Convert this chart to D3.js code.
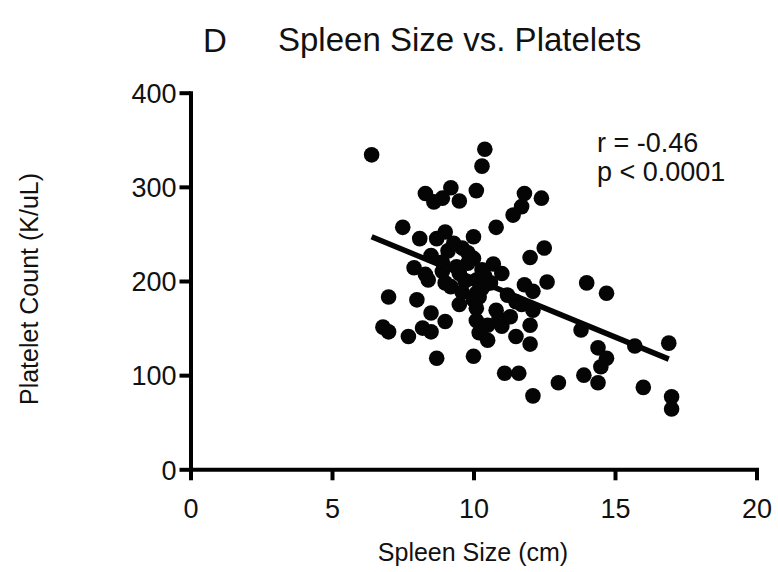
<!DOCTYPE html>
<html>
<head>
<meta charset="utf-8">
<script src="https://cdn.jsdelivr.net/npm/d3@7"></script>
<style>
  body { margin: 0; background: #fff; }
  svg text { font-family: "Liberation Sans", Arial, sans-serif; fill: #111; }
</style>
</head>
<body>
<div class="container"></div>
<script>
// spleen size (cm) and platelet count (K/uL)
var spleenSize = [6.4, 10.4, 10.3, 8.3, 8.6, 8.9, 9.2, 9.5, 10.1, 11.8,
                  12.4, 11.7, 11.4, 7.5, 10.8, 8.1, 8.7, 9.0, 10.0, 12.5,
                  12.0, 9.1, 9.6, 7.9, 8.3, 8.9, 9.5, 10.0, 10.7, 11.0,
                  8.4, 9.2, 9.6, 10.1, 10.1, 10.2, 11.8, 12.1, 12.6, 14.0,
                  14.7, 7.0, 8.0, 10.0, 10.1, 10.1, 10.8, 11.5, 11.7, 12.1,
                  8.5, 9.0, 8.2, 8.5, 6.8, 7.0, 7.7, 10.5, 10.2, 10.5,
                  11.0, 11.5, 12.0, 12.0, 13.8, 14.4, 14.7, 14.5, 15.7, 16.9,
                  8.7, 10.0, 11.1, 11.6, 12.1, 13.0, 13.9, 14.4, 16.0, 17.0,
                  17.0, 8.5, 9.8, 10.4, 9.5, 9.3, 9.8, 10.3, 8.9, 9.4,
                  10.4, 9.7, 10.6, 9.0, 10.3, 11.2, 10.9, 11.3];
var platelets  = [334, 340, 322, 293, 284, 288, 299, 285, 296, 293,
                  288, 279, 270, 257, 257, 245, 245, 252, 247, 235,
                  225, 232, 235, 214, 207, 210, 208, 224, 218, 208,
                  201, 194, 188, 201, 187, 183, 196, 189, 199, 198,
                  187, 183, 180, 180, 171, 158, 169, 178, 175, 169,
                  166, 157, 150, 146, 151, 146, 141, 153, 145, 137,
                  152, 141, 153, 133, 148, 129, 118, 109, 131, 134,
                  118, 120, 102, 102, 78, 92, 100, 92, 87, 77,
                  64, 227, 219, 196, 175, 240, 230, 212, 220, 215,
                  205, 200, 198, 198, 192, 185, 160, 162];

// regression line end points
var fitX = [6.4, 16.9];
var fitY = [247, 117];

var xTicks = [0, 5, 10, 15, 20];
var yTicks = [0, 100, 200, 300, 400];
var stats = ["r = -0.46", "p < 0.0001"];

var width = 778, height = 572;

var x_scale = d3.scaleLinear().domain([0, 20]).range([190.5, 756.5]);
var y_scale = d3.scaleLinear().domain([0, 400]).range([469.3, 92.7]);

var svg = d3.select("div.container").append("svg")
    .attr("width", width)
    .attr("height", height);

// axes
var gx = svg.append("g")
    .attr("transform", "translate(0," + y_scale(0) + ")")
    .call(d3.axisBottom(x_scale).tickValues(xTicks).tickSize(11).tickSizeOuter(0).tickPadding(19));

var gy = svg.append("g")
    .attr("transform", "translate(" + x_scale(0) + ",0)")
    .call(d3.axisLeft(y_scale).tickValues(yTicks).tickSize(11).tickSizeOuter(0).tickPadding(3));

[gx, gy].forEach(function (g) {
  g.select(".domain").attr("stroke", "#000").attr("stroke-width", 4).attr("stroke-linecap", "square");
  g.selectAll(".tick line").attr("stroke", "#000").attr("stroke-width", 4);
  g.selectAll(".tick text").attr("font-size", 27).attr("fill", "#111")
      .attr("font-family", "'Liberation Sans', Arial, sans-serif");
});
gy.selectAll(".tick text").attr("dy", "0.36em");

// points
svg.append("g").selectAll("circle")
    .data(spleenSize.map(function (d, i) { return [d, platelets[i]]; }))
    .enter().append("circle")
    .attr("cx", function (d) { return x_scale(d[0]); })
    .attr("cy", function (d) { return y_scale(d[1]); })
    .attr("r", 7.8)
    .attr("fill", "#050505");

// fit line
var line = d3.line()
    .x(function (d) { return x_scale(d[0]); })
    .y(function (d) { return y_scale(d[1]); });

svg.append("path")
    .datum(fitX.map(function (d, i) { return [d, fitY[i]]; }))
    .attr("fill", "none")
    .attr("stroke", "#050505")
    .attr("stroke-width", 5.5)
    .attr("d", line);

// labels
svg.append("text")
    .attr("x", 203).attr("y", 52)
    .attr("font-size", 33)
    .text("D");

svg.append("text")
    .attr("x", 278).attr("y", 51)
    .attr("font-size", 33)
    .text("Spleen Size vs. Platelets");

svg.append("text")
    .attr("x", 473).attr("y", 561)
    .attr("text-anchor", "middle")
    .attr("font-size", 25)
    .text("Spleen Size (cm)");

svg.append("text")
    .attr("transform", "translate(38,289) rotate(-90)")
    .attr("text-anchor", "middle")
    .attr("font-size", 25)
    .text("Platelet Count (K/uL)");

svg.append("g").selectAll("text")
    .data(stats)
    .enter().append("text")
    .attr("x", 597)
    .attr("y", function (d, i) { return 152 + i * 29; })
    .attr("font-size", 27)
    .text(function (d) { return d; });
</script>
</body>
</html>
